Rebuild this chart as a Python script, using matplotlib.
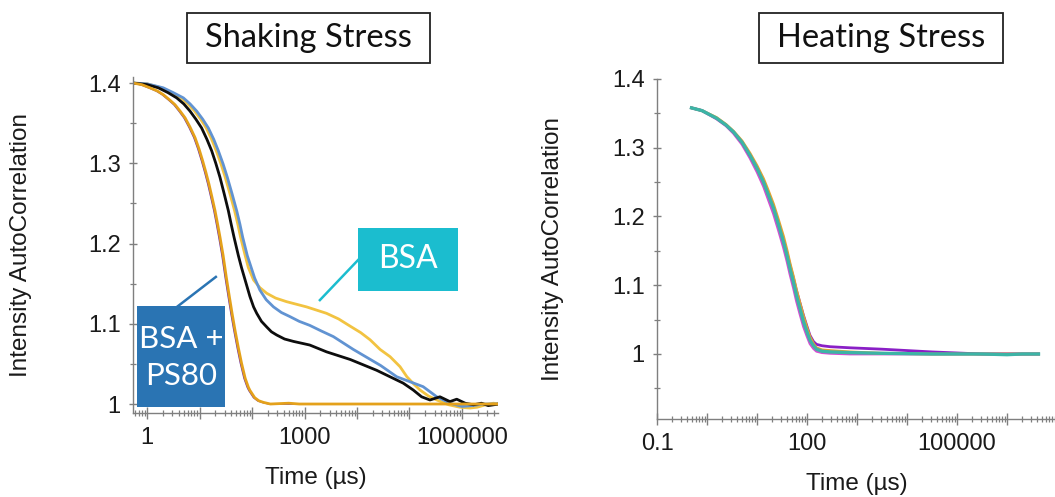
import numpy as np
import matplotlib
matplotlib.use("Agg")
import matplotlib.pyplot as plt
from matplotlib.patches import Rectangle
from matplotlib.ticker import FixedLocator, LogLocator, FuncFormatter, MultipleLocator, NullFormatter

plt.rcParams["font.family"] = ["Liberation Sans", "DejaVu Sans"]

# ---- shaking stress (left panel), log10(time in us) vs autocorrelation ----
fast_logt = [-0.27, -0.1, 0.057, 0.2, 0.31, 0.43, 0.533, 0.63, 0.724, 0.82, 0.914, 0.99, 1.06,
             1.12, 1.18, 1.24, 1.295, 1.345, 1.39, 1.45, 1.51, 1.568, 1.62, 1.676, 1.74, 1.80,
             1.87, 1.93, 1.96, 2.05, 2.13, 2.22, 2.35, 2.7, 2.9, 3.5, 4.5, 5.5, 6.7]
fast_g = [1.400, 1.398, 1.394, 1.390, 1.3855, 1.379, 1.373, 1.365, 1.3567, 1.345, 1.332, 1.318, 1.303,
          1.289, 1.274, 1.257, 1.241, 1.224, 1.208, 1.185, 1.158, 1.134, 1.113, 1.092, 1.070, 1.051,
          1.032, 1.021, 1.017, 1.008, 1.004, 1.002, 1.000, 1.001, 1.000, 1.000, 1.000, 1.000, 1.000]
purple_logt = [-0.27, -0.12, 0.037, 0.18, 0.29, 0.41, 0.513, 0.61, 0.704, 0.80, 0.894, 0.97, 1.04,
               1.10, 1.16, 1.22, 1.275, 1.325, 1.37, 1.43, 1.49, 1.548, 1.60, 1.656, 1.72, 1.78,
               1.85, 1.91, 1.94, 2.03, 2.11, 2.20, 2.33, 3.5, 4.5, 5.5, 6.7]
purple_g = [1.400, 1.398, 1.394, 1.390, 1.3855, 1.379, 1.373, 1.365, 1.3567, 1.345, 1.332, 1.318, 1.303,
            1.289, 1.274, 1.257, 1.241, 1.224, 1.208, 1.185, 1.158, 1.134, 1.113, 1.092, 1.070, 1.051,
            1.032, 1.021, 1.017, 1.008, 1.004, 1.002, 1.000, 1.000, 1.000, 1.000, 1.000]
black_logt = [-0.27, 0.0, 0.216, 0.4, 0.565, 0.70, 0.819, 0.93, 1.04, 1.14, 1.232, 1.31, 1.39, 1.47,
              1.549, 1.60, 1.657, 1.74, 1.80, 1.88, 1.96, 2.03, 2.09, 2.18, 2.28, 2.37, 2.47, 2.62,
              2.79, 3.10, 3.42, 3.87, 4.375, 4.88, 5.07, 5.23, 5.39, 5.58, 5.77, 5.90, 6.06, 6.22,
              6.37, 6.50, 6.70]
black_g = [1.400, 1.398, 1.394, 1.388, 1.3815, 1.374, 1.365, 1.355, 1.344, 1.330, 1.3155, 1.300, 1.2825, 1.262,
           1.241, 1.225, 1.208, 1.185, 1.170, 1.152, 1.134, 1.121, 1.113, 1.103, 1.096, 1.090, 1.086, 1.081,
           1.078, 1.0735, 1.065, 1.0555, 1.042, 1.026, 1.0175, 1.009, 1.005, 1.009, 1.003, 1.006, 1.001, 0.999,
           1.001, 0.998, 1.000]
blue_logt = [-0.27, 0.0, 0.31, 0.50, 0.692, 0.82, 0.946, 1.06, 1.168, 1.27, 1.359, 1.45, 1.53, 1.62,
             1.708, 1.77, 1.822, 1.91, 1.96, 2.05, 2.15, 2.27, 2.41, 2.56, 2.72, 2.9, 3.10, 3.32,
             3.55, 3.93, 4.45, 4.756, 5.0, 5.26, 5.52, 5.77, 6.0, 6.2, 6.4, 6.7]
blue_g = [1.400, 1.399, 1.394, 1.388, 1.3815, 1.374, 1.365, 1.355, 1.344, 1.330, 1.3155, 1.299, 1.2825, 1.262,
          1.241, 1.224, 1.208, 1.185, 1.175, 1.157, 1.142, 1.130, 1.121, 1.114, 1.109, 1.103, 1.098, 1.091,
          1.084, 1.068, 1.048, 1.034, 1.028, 1.0216, 1.009, 1.001, 0.997, 0.998, 1.000, 1.000]
yellow_logt = [-0.27, 0.0, 0.27, 0.46, 0.65, 0.78, 0.906, 1.02, 1.128, 1.23, 1.319, 1.41, 1.49, 1.58,
               1.668, 1.73, 1.782, 1.87, 1.93, 2.03, 2.15, 2.28, 2.45, 2.66, 3.04, 3.42, 3.65, 3.87,
               4.07, 4.25, 4.44, 4.63, 4.82, 4.95, 5.08, 5.2, 5.36, 5.52, 5.75, 5.96, 6.15, 6.29,
               6.45, 6.6, 6.7]
yellow_g = [1.400, 1.399, 1.394, 1.388, 1.3815, 1.374, 1.365, 1.355, 1.344, 1.330, 1.3155, 1.299, 1.2825, 1.262,
            1.241, 1.224, 1.208, 1.185, 1.170, 1.1545, 1.145, 1.138, 1.132, 1.1275, 1.121, 1.113, 1.106, 1.097,
            1.089, 1.080, 1.068, 1.059, 1.0465, 1.034, 1.025, 1.0175, 1.010, 1.005, 0.999, 0.996, 0.995, 0.996,
            0.999, 1.001, 1.000]

# ---- heating stress (right panel) ----
heat_logt = [-0.31, -0.1, 0.19, 0.38, 0.53, 0.7, 0.86, 1.0, 1.13, 1.23, 1.33, 1.43, 1.53, 1.60,
             1.66, 1.73, 1.79, 1.86, 1.93, 2.0, 2.06, 2.13, 2.19, 2.3, 2.46, 2.86, 3.5, 4.5,
             5.5, 6.0, 6.3, 6.63]
teal_g = [1.358, 1.354, 1.343, 1.333, 1.323, 1.308, 1.289, 1.270, 1.250, 1.231, 1.212, 1.188, 1.163, 1.143,
          1.124, 1.104, 1.085, 1.066, 1.047, 1.032, 1.020, 1.012, 1.007, 1.004, 1.003, 1.002, 1.001, 1.000,
          1.000, 0.999, 1.000, 1.000]
hpurple_g = [1.358, 1.354, 1.343, 1.333, 1.323, 1.308, 1.289, 1.271, 1.252, 1.233, 1.214, 1.191, 1.166, 1.147,
             1.129, 1.110, 1.092, 1.074, 1.056, 1.040, 1.027, 1.018, 1.014, 1.012, 1.0106, 1.009, 1.007, 1.003,
             1.000, 1.000, 1.000, 1.000]
horange_g = [1.358, 1.354, 1.344, 1.334, 1.324, 1.310, 1.292, 1.274, 1.255, 1.237, 1.218, 1.195, 1.171, 1.151,
             1.132, 1.112, 1.093, 1.074, 1.055, 1.038, 1.025, 1.015, 1.009, 1.006, 1.005, 1.003, 1.001, 1.000,
             1.000, 1.000, 1.000, 1.000]
hmagenta_g = [1.358, 1.354, 1.342, 1.332, 1.321, 1.305, 1.285, 1.265, 1.244, 1.224, 1.204, 1.180, 1.155, 1.135,
              1.116, 1.096, 1.077, 1.058, 1.040, 1.026, 1.015, 1.008, 1.004, 1.002, 1.001, 1.000, 1.000, 1.000,
              1.000, 1.000, 1.000, 1.000]

left_labels = {0: "1", 3: "1000", 6: "1000000"}
right_labels = {-1: "0.1", 2: "100", 5: "100000"}

call_font = "Lato"
spine_col = "#7f7f7f"
text_col = "#1a1a1a"

fig = plt.figure(figsize=(10.55, 4.97), dpi=100)


def style_axis(ax, decades, labels, ylo, ylab_x, xlab_y):
    ax.set_xscale("log")
    for s in ["top", "right"]:
        ax.spines[s].set_visible(False)
    for s in ["left", "bottom"]:
        ax.spines[s].set_color(spine_col)
        ax.spines[s].set_linewidth(1.0)
    ax.xaxis.set_major_locator(FixedLocator([10.0 ** d for d in decades]))
    ax.xaxis.set_major_formatter(FuncFormatter(
        lambda v, p: labels.get(int(round(np.log10(v))), "")))
    ax.xaxis.set_minor_locator(LogLocator(base=10, subs=np.arange(2, 10), numticks=30))
    ax.xaxis.set_minor_formatter(NullFormatter())
    ax.yaxis.set_major_locator(MultipleLocator(0.1))
    ax.yaxis.set_minor_locator(MultipleLocator(0.05))
    ax.yaxis.set_major_formatter(FuncFormatter(lambda v, p: f"{v:g}" if v > ylo + 0.02 else ""))
    ax.tick_params(which="major", direction="inout", length=8, width=1, color=spine_col,
                   labelsize=17, labelcolor=text_col, pad=6)
    ax.tick_params(which="minor", direction="inout", length=5, width=0.9, color=spine_col)
    ax.tick_params(axis="y", which="major", length=6)
    ax.set_xlabel("Time (µs)", fontsize=17.5, color=text_col, va="center")
    ax.set_ylabel("Intensity AutoCorrelation", fontsize=17.5, color=text_col, va="center")
    ax.yaxis.set_label_coords(ylab_x, 0.5)
    ax.xaxis.set_label_coords(0.5, xlab_y)


# ---------------- left panel ----------------
ax1 = fig.add_axes([133 / 1055, 1 - 413 / 497, 365 / 1055, 336 / 497])
lw = 2.0
ax1.plot(10 ** np.array(yellow_logt), yellow_g, color="#f2c341", lw=lw)
ax1.plot(10 ** np.array(blue_logt), blue_g, color="#6193d2", lw=lw)
ax1.plot(10 ** np.array(black_logt), black_g, color="#0d0d0d", lw=lw)
ax1.plot(10 ** np.array(purple_logt), purple_g, color="#6a2ca8", lw=1.2)
ax1.plot(10 ** np.array(fast_logt), fast_g, color="#e4a11b", lw=lw)
ax1.set_xlim(10 ** -0.267, 10 ** 6.686)
ax1.set_ylim(0.9888, 1.4075)
style_axis(ax1, range(0, 7), left_labels, 0.95, -0.307, -0.193)

# callouts
bsa_col = "#1bbdcf"
ps_col = "#2a74b3"
ax1.add_patch(Rectangle((0.616, 0.363), 0.274, 0.188, transform=ax1.transAxes,
                        facecolor=bsa_col, edgecolor="none", clip_on=False, zorder=5))
ax1.text(0.753, 0.457, "BSA", transform=ax1.transAxes, ha="center", va="center",
         color="white", fontsize=23, family=call_font, zorder=6)
ax1.plot([0.512, 0.619], [0.336, 0.458], transform=ax1.transAxes, color=bsa_col, lw=1.8,
         clip_on=False, zorder=5)
ax1.add_patch(Rectangle((0.011, 0.018), 0.241, 0.300, transform=ax1.transAxes,
                        facecolor=ps_col, edgecolor="none", clip_on=False, zorder=5))
ax1.text(0.1315, 0.165, "BSA +\nPS80", transform=ax1.transAxes, ha="center", va="center",
         color="white", fontsize=22.5, family=call_font, linespacing=1.4, zorder=6)
ax1.plot([0.123, 0.227], [0.318, 0.405], transform=ax1.transAxes, color=ps_col, lw=1.8,
         clip_on=False, zorder=5)

# ---------------- right panel ----------------
ax2 = fig.add_axes([657 / 1055, 1 - 419.3 / 497, 400 / 1055, 340.3 / 497])
t_heat = 10 ** np.array(heat_logt)
ax2.plot(t_heat, hmagenta_g, color="#d24fd0", lw=2.0)
ax2.plot(t_heat, hpurple_g, color="#8a1fc6", lw=2.0)
ax2.plot(t_heat, horange_g, color="#e2a230", lw=2.0)
ax2.plot(t_heat, teal_g, color="#3cb4a6", lw=2.4)
ax2.set_xlim(0.1, 1.0e7)
ax2.set_ylim(0.905, 1.4)
style_axis(ax2, range(-1, 8), right_labels, 0.9, -0.26, -0.19)

# title boxes
for (x0, x1), title in [((187, 430), "Shaking Stress"), ((759, 1003), "Heating Stress")]:
    fig.patches.append(Rectangle((x0 / 1055, 1 - 63 / 497), (x1 - x0) / 1055, 50 / 497,
                                 transform=fig.transFigure, facecolor="white",
                                 edgecolor="#222222", lw=1.3))
    fig.text((x0 + x1) / 2 / 1055, 1 - 38 / 497, title, ha="center", va="center",
             fontsize=23.5, family=call_font, color="#111111")

fig.savefig("out.png", dpi=100)
